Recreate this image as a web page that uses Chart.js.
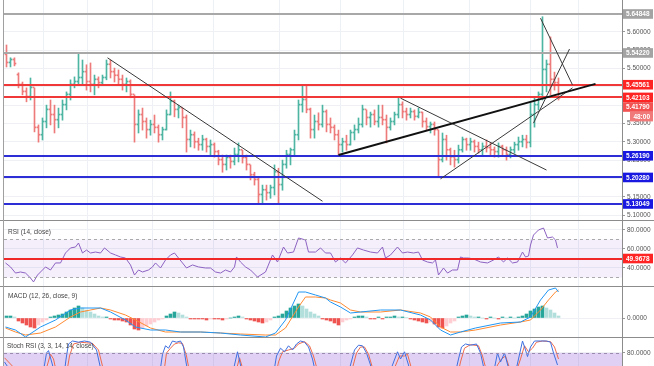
<!DOCTYPE html>
<html>
<head>
<meta charset="utf-8">
<script src="https://cdn.jsdelivr.net/npm/chart.js@4.4.0/dist/chart.umd.min.js"></script>
<style>
  body { margin: 0; background: #fff; width: 654px; height: 366px; overflow: hidden; position: relative; font-family: "Liberation Sans", Arial, sans-serif; }
  canvas { position: absolute; left: 0; }
  .sep { position: absolute; left: 0; width: 654px; height: 1px; background: #8c8c8c; }
  .edge { position: absolute; left: 3px; top: 0; width: 1px; height: 366px; background: #a0a0a0; }
  .lbl { position: absolute; left: 8px; font-size: 6.5px; line-height: 8px; color: #444; white-space: nowrap; }
</style>
</head>
<body>
<canvas id="main" width="654" height="220" style="top:0"></canvas>
<div class="sep" style="top:220px"></div>
<canvas id="rsi" width="654" height="65" style="top:221px"></canvas>
<div class="sep" style="top:286px"></div>
<canvas id="macd" width="654" height="50" style="top:287px"></canvas>
<div class="sep" style="top:337px"></div>
<canvas id="stoch" width="654" height="28" style="top:338px"></canvas>
<div class="edge"></div>
<div class="lbl" style="top:228px">RSI (14, close)</div>
<div class="lbl" style="top:292px">MACD (12, 26, close, 9)</div>
<div class="lbl" style="top:342px;left:7px">Stoch RSI (3, 3, 14, 14, close)</div>
<script>
Chart.defaults.font.family = '"Liberation Sans", Arial, sans-serif'
Chart.defaults.font.size = 6.5

// ---- price bars (one per session, index 0..138)
const opens = [
  5.537,5.515,5.523,5.482,5.455,5.436,5.422,5.447,5.338,5.318,
  5.354,5.387,5.373,5.359,5.373,5.400,5.428,5.455,5.463,5.474,
  5.490,5.463,5.455,5.469,5.460,5.474,5.510,5.490,5.480,5.469,
  5.455,5.463,5.428,5.346,5.373,5.354,5.332,5.346,5.338,5.318,
  5.332,5.373,5.409,5.387,5.392,5.365,5.305,5.318,5.299,5.291,
  5.305,5.286,5.291,5.272,5.250,5.237,5.256,5.245,5.264,5.277,
  5.256,5.237,5.209,5.196,5.155,5.168,5.160,5.174,5.217,5.182,
  5.237,5.264,5.277,5.318,5.400,5.414,5.387,5.332,5.354,5.346,
  5.381,5.346,5.338,5.318,5.291,5.299,5.291,5.324,5.332,5.346,
  5.387,5.365,5.373,5.354,5.365,5.359,5.338,5.354,5.373,5.400,
  5.381,5.373,5.381,5.368,5.379,5.354,5.340,5.346,5.332,5.250,
  5.305,5.277,5.258,5.250,5.277,5.305,5.291,5.299,5.286,5.277,
  5.286,5.283,5.277,5.272,5.286,5.277,5.264,5.277,5.291,5.299,
  5.305,5.297,5.373,5.400,5.428,5.496,5.510,5.469,5.460
]
const highs = [
  5.564,5.529,5.529,5.488,5.463,5.447,5.474,5.447,5.346,5.365,
  5.400,5.414,5.400,5.392,5.414,5.436,5.469,5.477,5.542,5.523,
  5.510,5.515,5.482,5.477,5.482,5.523,5.523,5.501,5.496,5.482,
  5.474,5.469,5.428,5.387,5.392,5.365,5.359,5.373,5.346,5.340,
  5.387,5.436,5.414,5.400,5.392,5.373,5.332,5.327,5.310,5.318,
  5.310,5.305,5.297,5.277,5.264,5.264,5.264,5.283,5.297,5.277,
  5.264,5.237,5.217,5.201,5.182,5.182,5.182,5.237,5.228,5.250,
  5.277,5.283,5.332,5.414,5.455,5.455,5.392,5.373,5.379,5.400,
  5.387,5.365,5.346,5.332,5.310,5.318,5.332,5.346,5.365,5.400,
  5.387,5.381,5.387,5.400,5.400,5.373,5.365,5.381,5.420,5.409,
  5.392,5.392,5.387,5.392,5.381,5.365,5.354,5.354,5.332,5.324,
  5.318,5.283,5.277,5.291,5.313,5.310,5.310,5.305,5.299,5.297,
  5.305,5.297,5.286,5.297,5.291,5.286,5.286,5.299,5.313,5.318,
  5.318,5.406,5.422,5.436,5.641,5.523,5.586,5.490,5.474
]
const lows = [
  5.504,5.504,5.507,5.447,5.428,5.409,5.414,5.327,5.299,5.305,
  5.338,5.346,5.324,5.338,5.359,5.387,5.414,5.447,5.455,5.455,
  5.441,5.436,5.428,5.447,5.455,5.469,5.474,5.463,5.455,5.441,
  5.436,5.420,5.299,5.324,5.332,5.310,5.318,5.324,5.299,5.305,
  5.332,5.373,5.368,5.365,5.338,5.272,5.286,5.283,5.277,5.277,
  5.272,5.264,5.258,5.237,5.217,5.223,5.228,5.237,5.245,5.242,
  5.223,5.196,5.182,5.133,5.133,5.141,5.146,5.155,5.133,5.168,
  5.228,5.237,5.264,5.305,5.381,5.379,5.310,5.310,5.332,5.340,
  5.327,5.324,5.305,5.264,5.272,5.277,5.291,5.305,5.324,5.340,
  5.346,5.340,5.346,5.340,5.346,5.297,5.332,5.346,5.365,5.365,
  5.359,5.365,5.359,5.365,5.340,5.332,5.324,5.318,5.204,5.245,
  5.250,5.237,5.231,5.242,5.272,5.277,5.277,5.272,5.269,5.264,
  5.272,5.264,5.258,5.258,5.264,5.250,5.256,5.269,5.277,5.286,
  5.283,5.286,5.340,5.387,5.414,5.436,5.428,5.441,5.414
]
const closes = [
  5.515,5.523,5.512,5.455,5.436,5.422,5.447,5.338,5.318,5.354,
  5.387,5.373,5.359,5.373,5.400,5.428,5.455,5.463,5.474,5.490,
  5.463,5.455,5.469,5.460,5.474,5.510,5.490,5.480,5.469,5.455,
  5.463,5.428,5.346,5.373,5.354,5.332,5.346,5.338,5.318,5.332,
  5.373,5.409,5.387,5.392,5.365,5.305,5.318,5.299,5.291,5.305,
  5.286,5.291,5.272,5.250,5.237,5.256,5.245,5.264,5.277,5.256,
  5.237,5.209,5.196,5.155,5.168,5.160,5.174,5.217,5.182,5.237,
  5.264,5.277,5.318,5.400,5.414,5.387,5.332,5.354,5.346,5.381,
  5.346,5.338,5.318,5.291,5.299,5.291,5.324,5.332,5.346,5.387,
  5.365,5.373,5.354,5.365,5.359,5.338,5.354,5.373,5.400,5.381,
  5.373,5.381,5.368,5.379,5.354,5.340,5.346,5.332,5.250,5.305,
  5.277,5.258,5.250,5.277,5.305,5.291,5.299,5.286,5.277,5.286,
  5.283,5.277,5.272,5.286,5.277,5.264,5.277,5.291,5.299,5.305,
  5.297,5.373,5.400,5.428,5.496,5.510,5.469,5.460,5.4179
]

// ---- drawn levels and trend lines (bar index, price)
const greyLevels = [5.64848, 5.54220]
const redLevels = [5.45561, 5.42103]
const blueLevels = [5.26190, 5.20280, 5.13049]
const lastPrice = 5.41790
const countdown = '48:00'
const thickTrend = [[83, 5.264], [147.25, 5.458]]
const thinTrends = [
  [[25.25, 5.529], [79, 5.138]],
  [[98.5, 5.419], [135, 5.223]],
  [[108.5, 5.199], [141.5, 5.447]],
  [[131.75, 5.351], [140.75, 5.553]],
  [[133.5, 5.637], [141.5, 5.455]]
]

// ---- axes
const priceTicks = [5.10, 5.15, 5.20, 5.25, 5.30, 5.35, 5.40, 5.45, 5.50, 5.55, 5.60, 5.65]
const rsiTicks = [40, 60, 80]
const macdTicks = [0]
const stochTicks = [80]
const gridIdx = [9.25, 20.25, 36.5, 51.75, 68.25, 83.5, 99.25, 115.75, 131, 143]
const xMin = -0.625, xMax = 153.875

// ---- RSI (14)
const rsiLevel = 49.9678
const rsiPts = [
  [-0.25,45.3],[1,41.1],[2.25,34.7],[3.5,35.8],[4.75,34.7],[6,29.5],[6.75,25.3],[7.75,32.6],[9,37.9],[9.75,41.1],
  [11,37.9],[12.25,45.3],[13.5,45.3],[14.75,55.8],[16,61.1],[17.25,62.1],[18,66.3],[19,55.8],[20,58.9],[21,55.8],
  [22.25,56.8],[23.5,55.8],[24.5,61.1],[26,55.8],[27.25,53.7],[28.5,51.6],[29.75,50.5],[31,43.2],[32,32.6],[33,37.9],
  [34,35.8],[35.5,37.9],[36.5,41.1],[37.25,45.3],[38.5,40],[39.75,48.4],[41,53.7],[42,55.8],[43,50.5],[44,45.3],
  [45,40],[46.5,43.2],[48,41.1],[49.75,40],[51,40],[52.25,35.8],[53.5,34.7],[54.75,37.9],[56,35.8],[57,41.1],
  [57.5,51.6],[58.5,46.3],[59.75,41.1],[61,37.9],[62.75,30.5],[64.75,35.8],[66.5,53.7],[67.75,46.3],[69.25,62.1],[70.25,55.8],
  [71.75,56.8],[73,71.6],[74.75,69.5],[75.5,56.8],[77.25,56.8],[78.5,61.1],[79.75,55.8],[81,55.8],[82.25,46.3],[83.5,50.5],
  [84.75,45.3],[86.5,53.7],[87.75,61.1],[89.25,58.9],[91,56.8],[92.75,55.8],[94,62.1],[94.75,50.5],[96,53.7],[97.75,62.1],
  [99,55.8],[100.25,56.8],[101.75,55.8],[103,56.8],[104,48.4],[105.25,46.3],[106.5,45.3],[107.25,48.4],[108,32.6],[109.25,40],
  [110.25,34.7],[111.5,37.9],[112.75,37.9],[113.5,51.6],[114.25,50.5],[115.5,50.5],[116.75,49.5],[118.5,46.3],[120.25,45.3],[121.75,48.4],
  [123,51.6],[124.25,46.3],[125.25,50.5],[126.5,45.3],[127.75,46.3],[129,56.8],[129.75,51.6],[130.5,52.6],[131,64.2],[131.75,74.7],
  [133,80],[134.25,82.1],[135.25,71.6],[136.5,72.6],[137.25,69.5],[137.75,61.1]
]

// ---- MACD (12, 26, 9)
const macdIdx = [-0.25,2.25,4.75,8.5,12.25,16,18.5,23.5,26,29.75,32.25,36,39.75,43.5,48.5,53.5,58.5,64.75,67.25,69.75,
  73,74.75,77.25,79.75,81,83.5,86,88.5,93.5,98.5,103.5,106,108.5,111,113.5,117.25,123.5,128.5,131,133.5,135.5,137.25,138]
const macdLine = [-0.009,-0.012,-0.019,-0.009,-0.002,0.008,0.010,0.010,0.006,-0.002,-0.009,-0.012,-0.012,-0.014,-0.014,-0.015,-0.017,-0.019,-0.015,-0.002,
  0.026,0.026,0.023,0.020,0.016,0.011,0.005,0.006,0.008,0.008,0.003,-0.002,-0.012,-0.017,-0.014,-0.010,-0.005,-0.004,0.001,0.018,0.028,0.030,0.026]
const signalLine = [-0.010,-0.014,-0.017,-0.015,-0.009,0.001,0.006,0.010,0.008,0.003,-0.002,-0.010,-0.014,-0.014,-0.014,-0.015,-0.016,-0.017,-0.017,-0.010,
  0.011,0.021,0.021,0.020,0.018,0.015,0.008,0.006,0.006,0.008,0.005,0.001,-0.009,-0.014,-0.014,-0.012,-0.007,-0.004,-0.002,0.008,0.018,0.026,0.028]
const macdHist = [
  0.002,0.002,0.001,-0.003,-0.005,-0.007,-0.009,-0.010,-0.007,-0.004,
  -0.002,0.001,0.002,0.003,0.004,0.006,0.008,0.010,0.012,0.010,
  0.008,0.006,0.004,0.002,0.001,0.001,-0.001,-0.002,-0.002,-0.003,
  -0.004,-0.007,-0.011,-0.012,-0.010,-0.008,-0.006,-0.004,-0.002,-0.001,
  0.002,0.004,0.006,0.005,0.003,0.001,-0.001,-0.001,-0.001,-0.001,
  -0.002,-0.001,-0.001,-0.001,-0.002,-0.001,0.000,0.001,0.002,0.001,
  -0.001,-0.002,-0.003,-0.004,-0.005,-0.004,-0.002,0.001,0.002,0.004,
  0.007,0.010,0.012,0.014,0.012,0.009,0.006,0.004,0.002,-0.001,
  -0.002,-0.003,-0.005,-0.007,-0.004,-0.002,-0.001,0.001,0.002,0.002,
  0.001,-0.001,-0.001,0.001,-0.001,0.001,0.001,0.002,0.001,0.001,
  0.0005,-0.001,-0.002,-0.003,-0.004,-0.005,-0.004,-0.006,-0.009,-0.010,
  -0.008,-0.005,-0.003,0.001,0.002,0.003,0.002,0.001,0.001,0.000,
  -0.001,0.001,0.000,-0.001,0.001,0.000,0.001,0.000,0.001,0.002,
  0.004,0.007,0.009,0.011,0.012,0.010,0.008,0.005,0.002
]

// ---- Stoch RSI (3, 3, 14, 14)
const stochK = [
  [-0.5,65],[1,50],[3,25],[5,12],[7,10],[8.5,30],[9.5,60],[10,80],[10.5,84],[11.5,60],[12.5,30],[13.5,15],[14,20],[14.5,50],
  [15,75],[15.5,95],[16.5,100],[18,98],[19.5,100],[21,98],[22.5,85],[23.5,55],[24.5,20],[26,5],[28,0],[30,10],[32,5],[34,0],
  [36,10],[37.5,25],[38.5,55],[39,78],[39.75,92],[40.5,88],[41.5,100],[42.5,98],[43.5,100],[44.25,90],[45,60],[46,25],[48,10],
  [50,15],[52,5],[54,10],[56,30],[57,60],[57.75,82],[58.5,60],[59.5,30],[61,10],[63,0],[65,5],[66.5,35],[67.5,75],[68.5,88],
  [69.5,82],[70.5,92],[71.5,85],[72.5,95],[73.5,100],[74.5,98],[75.5,90],[76.5,70],[77.5,40],[79,15],[81,5],[83,10],[85,30],
  [86,60],[87,85],[88,93],[89,92],[90,80],[91,60],[91.75,30],[93,15],[95,30],[96.5,60],[97.75,82],[98.5,70],[99.5,82],[100.5,60],
  [101.5,30],[103,10],[105,20],[106.5,45],[107.5,25],[109,5],[111,10],[112,40],[113,70],[113.75,90],[114.75,95],[116,93],[117.5,95],
  [118.5,80],[119.5,50],[121,30],[122,55],[122.75,80],[123.5,65],[124.5,80],[125.5,55],[126.5,30],[127.5,55],[128.5,85],[129,100],
  [129.75,85],[130.25,74],[131,90],[132,100],[133.5,100],[135,100],[136,98],[136.75,80],[137.75,60]
]
const stochD = [
  [-0.5,72],[1.5,58],[3.5,32],[5.5,15],[7.5,12],[9,28],[10,55],[11,78],[11.75,70],[12.75,40],[14,22],[15,45],[15.75,75],[16.75,95],
  [18.5,98],[20,97],[21.5,96],[23,85],[24,58],[25,25],[27,8],[29,8],[31,8],[33,3],[35,5],[37,12],[38.5,30],[39.5,55],[40,80],
  [41,88],[42,95],[43,97],[44,96],[45,75],[46,40],[48,15],[50,12],[54,8],[57,40],[58.25,72],[59,55],[60,30],[62,10],[65,3],[67,30],
  [68,65],[69,82],[70.5,85],[72,88],[73,95],[74.5,99],[75.75,92],[76.75,75],[78,45],[79.5,20],[82,8],[85.5,25],[86.5,55],[87.5,80],
  [88.5,90],[89.5,90],[90.5,78],[91.5,55],[92.5,30],[95.5,25],[97,55],[98.25,75],[99.5,75],[100.25,78],[101,60],[102,32],[104,12],
  [106.5,35],[108,25],[110,8],[112.5,35],[113.5,65],[114.5,88],[116,94],[118,92],[119,75],[120,50],[121.5,35],[122.75,60],[123.75,70],
  [124.75,75],[126,50],[127,40],[128.5,70],[129.5,92],[130.5,82],[131.5,88],[132.5,98],[134,100],[136,99],[137,90],[138,70]
]

const upColor = '#4fb5a3', downColor = '#ee7b7b'
const candleColors = closes.map((c, i) => c >= opens[i] ? upColor : downColor)
const histColors = macdHist.map((v, i) => {
  const prev = i ? macdHist[i - 1] : 0
  if (v >= 0) return v >= prev ? '#26a69a' : '#b2dfdb'
  return v <= prev ? '#ef5350' : '#ffcdd2'
})

// bands, level lines, trend lines and axis tags
const overlay = {
  id: 'overlay',
  beforeDatasetsDraw(chart, args, opts) {
    const { ctx, chartArea: a, scales: { y } } = chart
    ctx.save()
    for (const b of opts.bands || []) {
      const y1 = y.getPixelForValue(b.from), y2 = y.getPixelForValue(b.to)
      ctx.fillStyle = b.color
      ctx.fillRect(a.left, y1, a.right - a.left, y2 - y1)
    }
    ctx.restore()
  },
  afterDatasetsDraw(chart, args, opts) {
    const { ctx, chartArea: a, scales: { x, y } } = chart
    ctx.save()
    ctx.beginPath()
    ctx.rect(a.left, a.top, a.right - a.left, a.bottom - a.top)
    ctx.clip()
    for (const l of opts.levels || []) {
      const py = Math.round(y.getPixelForValue(l.value)) + (l.width % 2 ? 0.5 : 0)
      ctx.strokeStyle = l.color
      ctx.lineWidth = l.width
      ctx.setLineDash(l.dash || [])
      ctx.beginPath()
      ctx.moveTo(a.left, py)
      ctx.lineTo(a.right, py)
      ctx.stroke()
    }
    ctx.setLineDash([])
    for (const t of opts.trends || []) {
      ctx.strokeStyle = t.color
      ctx.lineWidth = t.width
      ctx.beginPath()
      ctx.moveTo(x.getPixelForValue(t.pts[0][0]), y.getPixelForValue(t.pts[0][1]))
      ctx.lineTo(x.getPixelForValue(t.pts[1][0]), y.getPixelForValue(t.pts[1][1]))
      ctx.stroke()
    }
    ctx.restore()
  },
  afterDraw(chart, args, opts) {
    const { ctx, chartArea: a, scales: { y } } = chart
    const h = 9.6
    let bottom = -Infinity
    ctx.save()
    ctx.font = 'bold 6.5px "Liberation Sans", Arial, sans-serif'
    ctx.textBaseline = 'middle'
    for (const t of opts.tags || []) {
      let top = t.follow ? bottom : Math.max(y.getPixelForValue(t.value) - h / 2, bottom)
      const left = t.follow ? a.right + 8 : a.right + 1
      ctx.fillStyle = t.bg
      ctx.fillRect(left, top, chart.width - left - 1, h)
      ctx.fillStyle = '#fff'
      ctx.textAlign = t.follow ? 'right' : 'left'
      ctx.fillText(t.text, t.follow ? chart.width - 4 : left + 3, top + h / 2 + 0.5)
      bottom = top + h
    }
    ctx.restore()
  }
}

// drop the half-label padding the axes would ask for, so panes use their full height
const noPad = s => { s.paddingTop = 0; s.paddingBottom = 0; s.paddingLeft = 0; s.paddingRight = 0 }

function scalesFor(yMin, yMax, yTicks, digits) {
  return {
    x: {
      type: 'linear', min: xMin, max: xMax, offset: false,
      afterBuildTicks: s => { s.ticks = gridIdx.map(v => ({ value: v })) },
      afterFit: s => { s.height = 0; noPad(s) },
      ticks: { display: false },
      grid: { color: '#edf0f4', drawTicks: false, offset: false },
      border: { display: false }
    },
    y: {
      position: 'right', min: yMin, max: yMax,
      afterBuildTicks: s => { s.ticks = yTicks.map(v => ({ value: v })) },
      afterFit: s => { s.width = 32; noPad(s) },
      ticks: { autoSkip: false, color: '#555', padding: 2, callback: v => Number(v).toFixed(digits) },
      grid: { color: '#eef0f4', tickColor: '#999', tickLength: 3 },
      border: { color: '#8c8c8c' }
    }
  }
}

function baseOptions(yMin, yMax, yTicks, digits, overlayOpts) {
  return {
    responsive: false,
    animation: false,
    events: [],
    layout: { padding: { left: 4, right: 0, top: 0, bottom: 0 }, autoPadding: false },
    plugins: { legend: { display: false }, tooltip: { enabled: false }, overlay: overlayOpts },
    scales: scalesFor(yMin, yMax, yTicks, digits)
  }
}

const pts = arr => arr.map(([x, y]) => ({ x, y }))
const line = (data, color) => ({ type: 'line', data, borderColor: color, borderWidth: 1, pointRadius: 0, tension: 0, order: 1 })
const ohlcPart = (data, thickness) => ({ data, backgroundColor: candleColors, barThickness: thickness, grouped: false, borderWidth: 0, minBarLength: 1 })

// main price pane: OHLC bars = high-low stem plus open tick (left) and close tick (right)
new Chart(document.getElementById('main'), {
  type: 'bar',
  data: {
    datasets: [
      ohlcPart(closes.map((c, i) => ({ x: i, y: [lows[i], highs[i]] })), 1),
      ohlcPart(closes.map((c, i) => ({ x: i - 0.25, y: [opens[i], opens[i]] })), 1),
      ohlcPart(closes.map((c, i) => ({ x: i + 0.25, y: [c, c] })), 1)
    ]
  },
  options: baseOptions(5.0868, 5.6866, priceTicks, 5, {
    levels: [
      ...greyLevels.map(v => ({ value: v, color: '#a8a8a8', width: 2 })),
      ...redLevels.map(v => ({ value: v, color: '#f03838', width: 2 })),
      ...blueLevels.map(v => ({ value: v, color: '#2e2ed6', width: 2 }))
    ],
    trends: [
      ...thinTrends.map(p => ({ pts: p, color: '#3a3a3a', width: 1 })),
      { pts: thickTrend, color: '#111', width: 2 }
    ],
    tags: [
      ...greyLevels.map(v => ({ value: v, text: v.toFixed(5), bg: '#a3a3a3' })),
      ...redLevels.map(v => ({ value: v, text: v.toFixed(5), bg: '#ff2424' })),
      { value: lastPrice, text: lastPrice.toFixed(5), bg: '#f25252' },
      { follow: true, text: countdown, bg: '#f07a7a' },
      ...blueLevels.map(v => ({ value: v, text: v.toFixed(5), bg: '#1818e0' }))
    ]
  }),
  plugins: [overlay]
})

// RSI pane
new Chart(document.getElementById('rsi'), {
  type: 'line',
  data: { datasets: [line(pts(rsiPts), '#8d62c2')] },
  options: baseOptions(21.05, 89.47, rsiTicks, 4, {
    bands: [{ from: 70, to: 30, color: 'rgba(150, 100, 220, 0.1)' }],
    levels: [
      { value: 70, color: '#aaa', width: 1, dash: [3, 3] },
      { value: 30, color: '#aaa', width: 1, dash: [3, 3] },
      { value: rsiLevel, color: '#f02828', width: 2 }
    ],
    tags: [{ value: rsiLevel, text: rsiLevel.toFixed(4), bg: '#ff2424' }]
  }),
  plugins: [overlay]
})

// MACD pane
new Chart(document.getElementById('macd'), {
  type: 'bar',
  data: {
    datasets: [
      line(macdIdx.map((x, i) => ({ x, y: macdLine[i] })), '#2196f3'),
      line(macdIdx.map((x, i) => ({ x, y: signalLine[i] })), '#ff8a30'),
      { data: macdHist.map((v, i) => ({ x: i, y: v })), backgroundColor: histColors, barThickness: 3, grouped: false, borderWidth: 0, order: 2 }
    ]
  },
  options: baseOptions(-0.019, 0.031, macdTicks, 4, {}),
  plugins: [overlay]
})

// Stoch RSI pane
new Chart(document.getElementById('stoch'), {
  type: 'line',
  data: { datasets: [line(pts(stochK), '#3d6fe0'), line(pts(stochD), '#f06a4a')] },
  options: baseOptions(58.3, 105, stochTicks, 4, {
    bands: [{ from: 80, to: 20, color: 'rgba(150, 100, 220, 0.3)' }],
    levels: [{ value: 80, color: '#9a8ab0', width: 1, dash: [3, 3] }]
  }),
  plugins: [overlay]
})
</script>
</body>
</html>
